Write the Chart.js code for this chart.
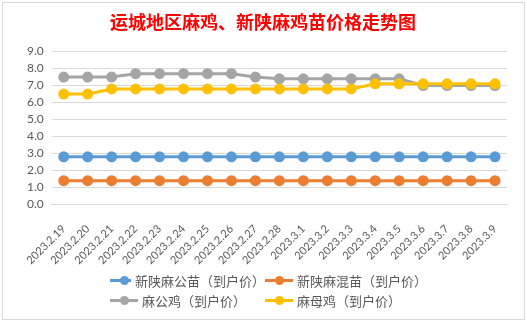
<!DOCTYPE html>
<html>
<head>
<meta charset="utf-8">
<script src="https://cdn.jsdelivr.net/npm/chart.js@4.4.1/dist/chart.umd.min.js"></script>
<style>
  body { margin: 0; background: #fff; }
  #wrap { position: relative; width: 527px; height: 322px; overflow: hidden; }
  #frame { position: absolute; left: 2px; top: 2px; width: 521px; height: 316px; border: 1px solid #d9d9d9; }
  canvas { position: absolute; left: 0; top: 0; }
  #legend { position: absolute; left: 110px; top: 271px; font-family: "Noto Sans CJK SC", sans-serif; font-size: 13px; color: #595959;
    display: grid; grid-template-columns: 155px 200px; row-gap: 1px; }
  .item { display: flex; align-items: center; height: 19px; white-space: nowrap; }
  .mark { position: relative; width: 28px; height: 3px; margin-right: 4px; }
  .mark span { position: absolute; left: 10px; top: -3px; width: 9px; height: 9px; border-radius: 50%; }
</style>
</head>
<body>
<div id="wrap">
  <div id="frame"></div>
  <canvas id="myChart" width="527" height="322"></canvas>
  <div id="legend"></div>
</div>
<script>
  // categories
  var dates = ["2023.2.19", "2023.2.20", "2023.2.21", "2023.2.22", "2023.2.23", "2023.2.24", "2023.2.25",
    "2023.2.26", "2023.2.27", "2023.2.28", "2023.3.1", "2023.3.2", "2023.3.3", "2023.3.4", "2023.3.5",
    "2023.3.6", "2023.3.7", "2023.3.8", "2023.3.9"];

  // series values
  var gongMiao = [2.8, 2.8, 2.8, 2.8, 2.8, 2.8, 2.8, 2.8, 2.8, 2.8, 2.8, 2.8, 2.8, 2.8, 2.8, 2.8, 2.8, 2.8, 2.8];
  var hunMiao = [1.4, 1.4, 1.4, 1.4, 1.4, 1.4, 1.4, 1.4, 1.4, 1.4, 1.4, 1.4, 1.4, 1.4, 1.4, 1.4, 1.4, 1.4, 1.4];
  var gongJi = [7.5, 7.5, 7.5, 7.7, 7.7, 7.7, 7.7, 7.7, 7.5, 7.4, 7.4, 7.4, 7.4, 7.4, 7.4, 7.0, 7.0, 7.0, 7.0];
  var muJi = [6.5, 6.5, 6.8, 6.8, 6.8, 6.8, 6.8, 6.8, 6.8, 6.8, 6.8, 6.8, 6.8, 7.1, 7.1, 7.1, 7.1, 7.1, 7.1];

  var names = ["新陕麻公苗（到户价）", "新陕麻混苗（到户价）", "麻公鸡（到户价）", "麻母鸡（到户价）"];
  var colors = ["#5b9bd5", "#ed7d31", "#a5a5a5", "#ffc000"];
  var values = [gongMiao, hunMiao, gongJi, muJi];

  var datasets = [];
  for (var i = 0; i < values.length; i++) {
    datasets.push({
      label: names[i],
      data: values[i],
      borderColor: colors[i],
      backgroundColor: colors[i],
      borderWidth: 3,
      pointRadius: 4,
      pointHoverRadius: 4,
      order: i === 3 ? 0 : 1
    });
  }

  // html legend, two columns like the original
  var legend = document.getElementById("legend");
  for (var i = 0; i < names.length; i++) {
    var item = document.createElement("div");
    item.className = "item";
    item.innerHTML = '<div class="mark" style="background:' + colors[i] + '"><span style="background:' + colors[i] + '"></span></div>' + names[i];
    legend.appendChild(item);
  }

  new Chart("myChart", {
    type: "line",
    data: { labels: dates, datasets: datasets },
    options: {
      responsive: false,
      animation: false,
      layout: { padding: { left: 19, right: 20, bottom: 45, top: 0 } },
      plugins: {
        legend: { display: false },
        tooltip: { enabled: false },
        title: {
          display: true,
          text: "运城地区麻鸡、新陕麻鸡苗价格走势图",
          color: "#ff0000",
          font: { family: "'Noto Sans CJK SC'", size: 18, weight: "bold" },
          padding: { top: 11, bottom: 19 }
        }
      },
      scales: {
        x: {
          offset: true,
          grid: { display: false },
          border: { color: "#d9d9d9" },
          ticks: { color: "#595959", font: { family: "Lato, 'Noto Sans CJK SC'", size: 11 },
            minRotation: 45, maxRotation: 45, padding: 10, autoSkip: false }
        },
        y: {
          min: 0,
          max: 9,
          grid: { color: "#d9d9d9", drawTicks: false },
          border: { display: false },
          ticks: { stepSize: 1, color: "#595959", font: { family: "Lato, 'Noto Sans CJK SC'", size: 12 },
            padding: 8, autoSkip: false,
            callback: function (v) { return v.toFixed(1); } }
        }
      }
    }
  });
</script>
</body>
</html>
